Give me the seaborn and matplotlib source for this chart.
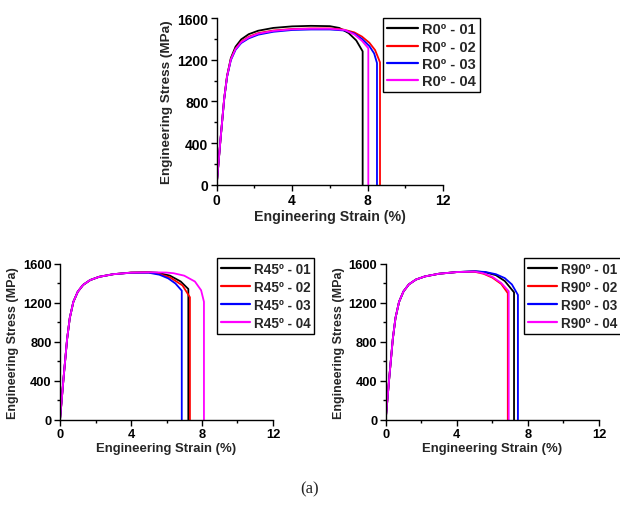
import numpy as np
import pandas as pd
import matplotlib
matplotlib.use('Agg')
import matplotlib.pyplot as plt
from matplotlib.ticker import MultipleLocator
import seaborn as sns

# ============================================================================
# DATA
# ============================================================================

# shared elastic / early hardening part
start_strain = [0, 0.2, 0.4, 0.55, 0.75, 1.0, 1.3, 1.7, 2.2, 3.0]

# R0 panel
r0_labels = ['R0º - 01', 'R0º - 02', 'R0º - 03', 'R0º - 04']
r0_strain_01 = start_strain + [4.0, 5.0, 6.0, 6.5, 7.0, 7.4, 7.74, 7.74]
r0_stress_01 = [0, 430, 830, 1045, 1215, 1325, 1395, 1445, 1478, 1505,
                1520, 1525, 1522, 1505, 1455, 1385, 1280, 0]
r0_strain_02 = start_strain + [4.0, 5.0, 6.0, 6.7, 7.3, 7.7, 8.1, 8.4, 8.66, 8.66]
r0_stress_02 = [0, 430, 830, 1040, 1205, 1305, 1372, 1420, 1455, 1480,
                1495, 1500, 1500, 1490, 1462, 1422, 1362, 1292, 1175, 0]
r0_strain_03 = start_strain + [4.0, 5.0, 6.0, 6.8, 7.3, 7.7, 8.1, 8.35, 8.5, 8.5]
r0_stress_03 = [0, 430, 825, 1035, 1195, 1295, 1360, 1405, 1440, 1468,
                1485, 1490, 1490, 1480, 1450, 1400, 1330, 1260, 1168, 0]
r0_strain_04 = start_strain + [4.0, 5.0, 6.0, 6.8, 7.3, 7.7, 8.04, 8.04]
r0_stress_04 = [0, 430, 830, 1040, 1202, 1302, 1368, 1414, 1450, 1476,
                1492, 1497, 1497, 1485, 1442, 1382, 1310, 0]

# R45 panel
r45_labels = ['R45º - 01', 'R45º - 02', 'R45º - 03', 'R45º - 04']
r45_strain_01 = start_strain + [4.0, 5.0, 5.5, 6.2, 6.8, 7.23, 7.23]
r45_stress_01 = [0, 430, 830, 1045, 1210, 1315, 1385, 1435, 1468, 1495,
                 1512, 1516, 1510, 1480, 1420, 1343, 0]
r45_strain_02 = start_strain + [4.0, 5.0, 5.5, 6.2, 6.9, 7.32, 7.32]
r45_stress_02 = [0, 430, 830, 1045, 1210, 1315, 1385, 1435, 1468, 1495,
                 1511, 1513, 1502, 1462, 1380, 1258, 0]
r45_strain_03 = start_strain + [4.0, 5.0, 5.6, 6.1, 6.5, 6.86, 6.86]
r45_stress_03 = [0, 430, 830, 1045, 1210, 1315, 1385, 1435, 1468, 1495,
                 1510, 1510, 1490, 1452, 1400, 1326, 0]
r45_strain_04 = start_strain + [4.0, 5.0, 6.0, 6.4, 7.0, 7.6, 7.95, 8.11, 8.11]
r45_stress_04 = [0, 430, 830, 1045, 1210, 1315, 1385, 1435, 1468, 1495,
                 1511, 1515, 1512, 1505, 1480, 1420, 1330, 1212, 0]

# R90 panel
r90_labels = ['R90º - 01', 'R90º - 02', 'R90º - 03', 'R90º - 04']
r90_strain_01 = start_strain + [4.0, 5.0, 5.6, 6.2, 6.7, 7.22, 7.22]
r90_stress_01 = [0, 430, 830, 1045, 1210, 1318, 1390, 1440, 1472, 1500,
                 1517, 1525, 1515, 1485, 1425, 1309, 0]
r90_strain_02 = start_strain + [4.0, 5.0, 5.5, 6.0, 6.5, 6.87, 6.87]
r90_stress_02 = [0, 430, 830, 1045, 1210, 1318, 1390, 1440, 1472, 1500,
                 1517, 1520, 1500, 1460, 1395, 1300, 0]
r90_strain_03 = start_strain + [4.0, 5.0, 5.6, 6.2, 6.7, 7.1, 7.44, 7.44]
r90_stress_03 = [0, 430, 830, 1045, 1210, 1318, 1390, 1440, 1472, 1500,
                 1517, 1525, 1518, 1495, 1455, 1390, 1282, 0]
r90_strain_04 = start_strain + [4.0, 5.0, 5.5, 6.0, 6.5, 6.92, 6.92]
r90_stress_04 = [0, 430, 830, 1045, 1210, 1318, 1390, 1440, 1472, 1500,
                 1517, 1522, 1505, 1468, 1405, 1320, 0]

line_colors = ['#000000', '#ff0000', '#0000ff', '#ff00ff']

panels = [
    (r0_labels, [(r0_strain_01, r0_stress_01), (r0_strain_02, r0_stress_02),
                 (r0_strain_03, r0_stress_03), (r0_strain_04, r0_stress_04)]),
    (r45_labels, [(r45_strain_01, r45_stress_01), (r45_strain_02, r45_stress_02),
                  (r45_strain_03, r45_stress_03), (r45_strain_04, r45_stress_04)]),
    (r90_labels, [(r90_strain_01, r90_stress_01), (r90_strain_02, r90_stress_02),
                  (r90_strain_03, r90_stress_03), (r90_strain_04, r90_stress_04)]),
]

# ============================================================================
# STYLE
# ============================================================================

sns.set_style('ticks')
plt.rcParams['font.family'] = ['Liberation Sans', 'DejaVu Sans']
plt.rcParams['font.weight'] = 'bold'
plt.rcParams['axes.labelweight'] = 'bold'
plt.rcParams['axes.edgecolor'] = 'black'
plt.rcParams['axes.linewidth'] = 1.0
plt.rcParams['xtick.color'] = 'black'
plt.rcParams['ytick.color'] = 'black'

fig = plt.figure(figsize=(6.2, 5.06), dpi=100)
fig.patch.set_facecolor('white')

ax_positions = [
    [0.3495, 0.633, 0.365, 0.3294],
    [0.0968, 0.1686, 0.3435, 0.3077],
    [0.6221, 0.1686, 0.3440, 0.3077],
]
legend_anchor = [(0.733, 1.0), (0.737, 1.039), (0.65, 1.039)]
legend_spacing = [0.22, 0.3, 0.3]
# the bottom panels are slightly shrunk in the reference, fonts too
font_scale = [1.0, 0.93, 0.93]

for (labels, curves), pos, anchor, fs, lsp in zip(panels, ax_positions, legend_anchor,
                                                  font_scale, legend_spacing):
    ax = fig.add_axes(pos)
    frames = []
    for lab, (sx, sy) in zip(labels, curves):
        frames.append(pd.DataFrame({'strain': sx, 'stress': sy, 'sample': lab}))
    df = pd.concat(frames, ignore_index=True)

    sns.lineplot(data=df, x='strain', y='stress', hue='sample',
                 palette=dict(zip(labels, line_colors)), hue_order=labels,
                 sort=False, estimator=None, linewidth=1.3, ax=ax)

    ax.set_xlim(0, 12)
    ax.set_ylim(0, 1600)
    ax.xaxis.set_major_locator(MultipleLocator(4))
    ax.xaxis.set_minor_locator(MultipleLocator(2))
    ax.yaxis.set_major_locator(MultipleLocator(400))
    ax.yaxis.set_minor_locator(MultipleLocator(200))
    ax.tick_params(which='major', direction='out', length=4, width=1, labelsize=10 * fs)
    ax.tick_params(axis='y', which='major', pad=2)
    ax.tick_params(axis='x', which='major', pad=2)
    ax.tick_params(which='minor', direction='out', length=2, width=1)
    for t in ax.get_xticklabels() + ax.get_yticklabels():
        t.set_fontweight('bold')
    ax.set_xlabel('Engineering Strain (%)', fontsize=10.2 * fs, fontweight='bold', labelpad=1.5)
    ax.set_ylabel('Engineering Stress (MPa)', fontsize=9.7 * fs, fontweight='bold', labelpad=3)
    sns.despine(ax=ax)
    ax.spines['left'].set_color('black')
    ax.spines['bottom'].set_color('black')
    ax.set_facecolor('white')

    sns.move_legend(ax, 'upper left', bbox_to_anchor=anchor, title=None,
                    frameon=True, fancybox=False, edgecolor='black',
                    framealpha=1, borderpad=0.3, labelspacing=lsp,
                    handlelength=2.1, handletextpad=0.3, borderaxespad=0,
                    prop={'size': 10.5 * fs, 'weight': 'bold'})
    leg = ax.get_legend()
    leg.get_frame().set_linewidth(1.0)
    for ln in leg.get_lines():
        ln.set_linewidth(1.6)

fig.text(0.5, 0.032, '(a)', ha='center', va='center', fontsize=12,
         family=['Liberation Serif', 'DejaVu Serif'], fontweight='normal')

fig.savefig('out.png', dpi=100, facecolor='white')
plt.close(fig)
